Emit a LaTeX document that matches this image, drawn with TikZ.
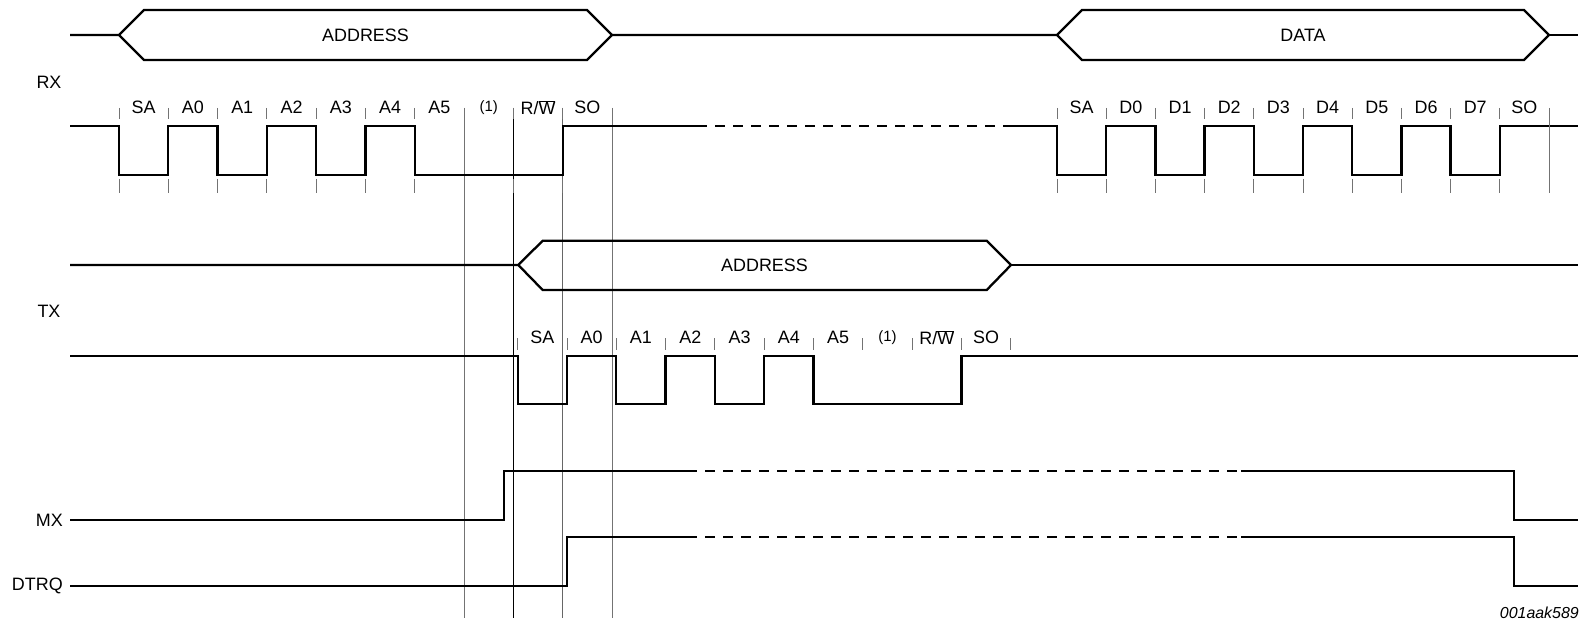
\documentclass[tikz,border=0pt]{standalone}
\usepackage{fontspec}
\setmainfont{Liberation Sans}
\usetikzlibrary{positioning}

\tikzset{
  sig/.style={line width=2.3bp},
  dsh/.style={line width=2.3bp,dash pattern=on 10bp off 8bp},
  guide/.style={line width=0.9bp},
  tck/.style={line width=0.9bp,black!55},
  lbl/.style={inner sep=0pt,font=\fontsize{18}{21}\selectfont}
}

\begin{document}
\begin{tikzpicture}[x=1bp,y=-1bp]
  \useasboundingbox (0,0) rectangle (1584,622);

  % signal names
  \node[lbl] (rx) at (49,82) {RX};
  \node[lbl] (tx) at (49,311) {TX};
  \node[lbl,anchor=east] (mx) at (63,520) {MX};
  \node[lbl,anchor=east] (dtrq) at (63,586) {DTRQ};

  % long guide lines
  \foreach \x/\c in {464.1/black!55,513.4/black,562.7/black!60,612/black!55}
    \draw[guide,\c] (\x,108) -- (\x,618);

  % RX bus
  \draw[sig] (70,35) -- (119,35) -- (144,10) -- (587,10) -- (612,35) -- (587,60) -- (144,60) -- (119,35);
  \draw[sig] (612,35) -- (1057,35) -- (1082,10) -- (1524,10) -- (1549,35) -- (1524,60) -- (1082,60) -- (1057,35);
  \draw[sig] (1549,35) -- (1578,35);
  \node[lbl] (rxadr) at (365.5,35) {ADDRESS};
  \node[lbl] (rxdat) at (1303,35) {DATA};

  % RX bits
  \draw[sig] (70,126) -| (119,175) -| (168.3,126) -| (217.6,175) -| (266.9,126) -| (316.2,175)
    -| (365.5,126) -| (414.8,175) -| (562.7,126) -- (697,126);
  \draw[dsh] (697,126) -- (1005.5,126);
  \draw[sig] (1005.5,126) -| (1057,175) -| (1106.2,126) -| (1155.4,175) -| (1204.6,126) -| (1253.8,175)
    -| (1303,126) -| (1352.2,175) -| (1401.4,126) -| (1450.6,175) -| (1499.8,126) -- (1578,126);
  \foreach \t [count=\i from 0] in {SA,A0,A1,A2,A3,A4,A5,{\fontsize{15}{17}\selectfont(1)},{R/$\overline{\mbox{W}}$},SO}
    \node[lbl] (rxa\i) at ({143.65+49.3*\i},107.5) {\t};
  \foreach \t [count=\i from 0] in {SA,D0,D1,D2,D3,D4,D5,D6,D7,SO}
    \node[lbl] (rxd\i) at ({1081.6+49.2*\i},107.5) {\t};
  \foreach \i in {0,...,10} {
    \draw[tck] ({119+49.3*\i},108) -- +(0,11);
    \draw[tck] ({119+49.3*\i},179) -- +(0,14);
  }
  \foreach \i in {0,...,9} {
    \draw[tck] ({1057+49.2*\i},108) -- +(0,11);
    \draw[tck] ({1057+49.2*\i},179) -- +(0,14);
  }
  \draw[tck] (1549,108) -- (1549,193);

  % TX bus
  \draw[sig] (70,265) -- (518.3,265) -- (542.7,240.7) -- (986.7,240.7) -- (1011,265) -- (986.7,290) -- (542.7,290) -- (518.3,265);
  \draw[sig] (1011,265) -- (1578,265);
  \node[lbl] (txadr) at (764.5,265) {ADDRESS};

  % TX bits
  \draw[sig] (70,355.7) -| (517.7,404) -| (567,355.7) -| (616.3,404) -| (665.6,355.7) -| (714.9,404)
    -| (764.2,355.7) -| (813.5,404) -| (961.4,355.7) -- (1578,355.7);
  \foreach \t [count=\i from 0] in {SA,A0,A1,A2,A3,A4,A5,{\fontsize{15}{17}\selectfont(1)},{R/$\overline{\mbox{W}}$},SO}
    \node[lbl] (txa\i) at ({542.35+49.3*\i},337.5) {\t};
  \foreach \i in {0,...,10}
    \draw[tck] ({517.7+49.3*\i},338) -- +(0,12);

  % MX and DTRQ
  \draw[sig] (70,520) -| (504,470.7) -- (687,470.7);
  \draw[dsh] (687,470.7) -- (1241,470.7);
  \draw[sig] (1241,470.7) -| (1514.3,520) -- (1578,520);
  \draw[sig] (70,585.7) -| (567.3,536.7) -- (687,536.7);
  \draw[dsh] (687,536.7) -- (1241,536.7);
  \draw[sig] (1241,536.7) -| (1514.3,585.7) -- (1578,585.7);

  \node[anchor=east,inner sep=0pt,font=\fontsize{16}{18}\selectfont\itshape] (code) at (1579,613) {001aak589};
\end{tikzpicture}
\end{document}
